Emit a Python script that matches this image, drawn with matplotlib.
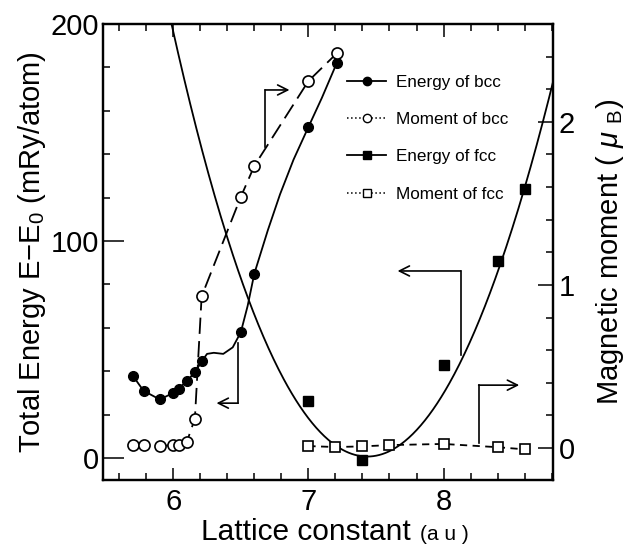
import numpy as np
import matplotlib
matplotlib.use('Agg')
import matplotlib.pyplot as plt
from matplotlib.ticker import MultipleLocator
from matplotlib.lines import Line2D

plt.rcParams['font.family'] = ['Liberation Sans', 'DejaVu Sans']
plt.rcParams['mathtext.fontset'] = 'custom'
plt.rcParams['mathtext.rm'] = 'Liberation Sans'
plt.rcParams['mathtext.it'] = 'Liberation Sans:italic'

# ---------------- data ----------------
bcc_a = [5.70, 5.78, 5.90, 6.00, 6.04, 6.10, 6.16, 6.21, 6.50, 6.60, 7.00, 7.21]
bcc_energy = [38, 31, 27, 30, 32, 35.5, 39.5, 44.5, 58, 85, 152.5, 182]
bcc_moment = [0.018, 0.018, 0.012, 0.018, 0.018, 0.037, 0.18, 0.93, 1.54, 1.73, 2.25, 2.42]

# guide curve drawn through the bcc energy points
bcc_curve_a = [5.70, 5.78, 5.90, 6.00, 6.04, 6.10, 6.16, 6.21, 6.25, 6.30,
               6.37, 6.44, 6.50, 6.55, 6.60, 6.70, 6.79, 6.89, 7.00, 7.10, 7.21]
bcc_curve_e = [38, 31, 27, 30, 32, 35.5, 39.5, 44.5, 48, 48.5,
               48, 51, 58, 70, 85, 105, 121.5, 137.5, 152.5, 166, 182]

fcc_a = [7.0, 7.4, 8.0, 8.4, 8.6]
fcc_energy = [26.5, -1, 43, 91, 124]
fcc_moment_a = [7.0, 7.2, 7.4, 7.6, 8.0, 8.4, 8.6]
fcc_moment = [0.012, 0.006, 0.01, 0.018, 0.025, 0.005, -0.008]

# fitted fcc energy curve
fcc_curve_a = [5.99, 6.37, 6.55, 6.63, 6.68, 6.84, 7.01, 7.16, 7.31, 7.40,
               7.53, 7.70, 7.90, 8.07, 8.13, 8.20, 8.41, 8.57, 8.62, 8.81]
fcc_curve_e = [199.5, 106.5, 75, 59, 55, 36, 19, 8.3, 0.5, -0.9,
               0.5, 7.4, 20.7, 37, 47.5, 54.4, 88, 119, 124.4, 175]

x_ticks = [6, 7, 8]
left_ticks = [0, 100, 200]
right_ticks = [0, 1, 2]

# ---------------- figure ----------------
fig = plt.figure(figsize=(6.33, 5.5), dpi=100)
ax = fig.add_axes([0.1627, 0.1273, 0.7109, 0.8291])
ax2 = ax.twinx()

ax.set_xlim(5.48, 8.81)
ax.set_ylim(-10.1, 200)
ax2.set_ylim(-0.196, 2.60)

lw = 1.3
# fcc energy parabola
coef = np.polyfit(fcc_curve_a, fcc_curve_e, 4)
xx = np.linspace(5.9, 8.9, 400)
ax.plot(xx, np.polyval(coef, xx), color='black', lw=lw, zorder=2)
ax.plot(fcc_a, fcc_energy, ls='none', marker='s', ms=7, mfc='black',
        mec='black', zorder=4)

# bcc energy
ax.plot(bcc_curve_a, bcc_curve_e, color='black', lw=lw, zorder=2)
ax.plot(bcc_a, bcc_energy, ls='none', marker='o', ms=7, mfc='black',
        mec='black', zorder=4)

# bcc moment
ax2.plot(bcc_a, bcc_moment, color='black', lw=lw, ls=(0, (9, 4)),
         marker='o', ms=8, mfc='white', mec='black', mew=1.2, zorder=3)
# fcc moment
ax2.plot(fcc_moment_a, fcc_moment, color='black', lw=lw, ls=(0, (4, 3)),
         marker='s', ms=6.5, mfc='white', mec='black', mew=1.2, zorder=3)

# arrows (left-axis data coordinates)
def bent_arrow(p0, p1, p2):
    ax.plot([p0[0], p1[0]], [p0[1], p1[1]], color='black', lw=1.2, zorder=2)
    ax.annotate('', xy=p2, xytext=p1,
                arrowprops=dict(arrowstyle='->', lw=1.2, color='black',
                                mutation_scale=18, shrinkA=0, shrinkB=0))

bent_arrow((6.68, 143.3), (6.68, 169.6), (6.86, 169.6))
bent_arrow((6.48, 53), (6.48, 25.3), (6.32, 25.3))
bent_arrow((8.126, 47.5), (8.126, 86.2), (7.66, 86.2))
bent_arrow((8.26, 6.9), (8.26, 33.6), (8.56, 33.6))

# ticks
fs = 21
ax.set_xticks(x_ticks)
ax.xaxis.set_minor_locator(MultipleLocator(0.2))
ax.set_yticks(left_ticks)
ax.yaxis.set_minor_locator(MultipleLocator(20))
ax2.set_yticks(right_ticks)
ax2.yaxis.set_minor_locator(MultipleLocator(0.2))

ax.tick_params(axis='x', which='both', direction='in', top=True, bottom=True,
               labelsize=fs, pad=6, width=1.1)
ax.tick_params(axis='x', which='major', length=9)
ax.tick_params(axis='x', which='minor', length=5)
ax.tick_params(axis='y', which='both', direction='in', left=True, right=False,
               labelsize=fs, pad=3, width=1.1)
ax.tick_params(axis='y', which='major', length=15)
ax.tick_params(axis='y', which='minor', length=5)
ax2.tick_params(axis='y', which='both', direction='in', labelsize=fs, pad=4,
                width=1.1)
ax2.tick_params(axis='y', which='major', length=11)
ax2.tick_params(axis='y', which='minor', length=5)

for a in (ax, ax2):
    for s in a.spines.values():
        s.set_linewidth(1.6)

ax.set_ylabel('Total Energy E\u2212E$_0$ (mRy/atom)', fontsize=21, labelpad=2)
ax2.set_ylabel('Magnetic moment ( $\\mu$ $_{\\rm B}$)', fontsize=21, labelpad=14)

fig.text(411 / 633, 0.018, 'Lattice constant', fontsize=21.5, ha='right', va='baseline')
fig.text(420 / 633, 0.018, '(a u )', fontsize=15, ha='left', va='baseline')

# legend
handles = [
    Line2D([], [], color='black', lw=1.3, marker='o', ms=6, mfc='black'),
    Line2D([], [], color='black', lw=1.1, ls=':', marker='o', ms=6, mfc='white'),
    Line2D([], [], color='black', lw=1.3, marker='s', ms=6, mfc='black'),
    Line2D([], [], color='black', lw=1.1, ls=':', marker='s', ms=6, mfc='white'),
]
labels = ['Energy of bcc', 'Moment of bcc', 'Energy of fcc', 'Moment of fcc']
fig.legend(handles, labels, loc='upper left', bbox_to_anchor=(347 / 633, 1 - 75 / 550),
           frameon=False, fontsize=12.3, handlelength=2.3, handletextpad=0.55,
           labelspacing=1.3, borderpad=0, borderaxespad=0)

fig.savefig('out.png', dpi=100)
